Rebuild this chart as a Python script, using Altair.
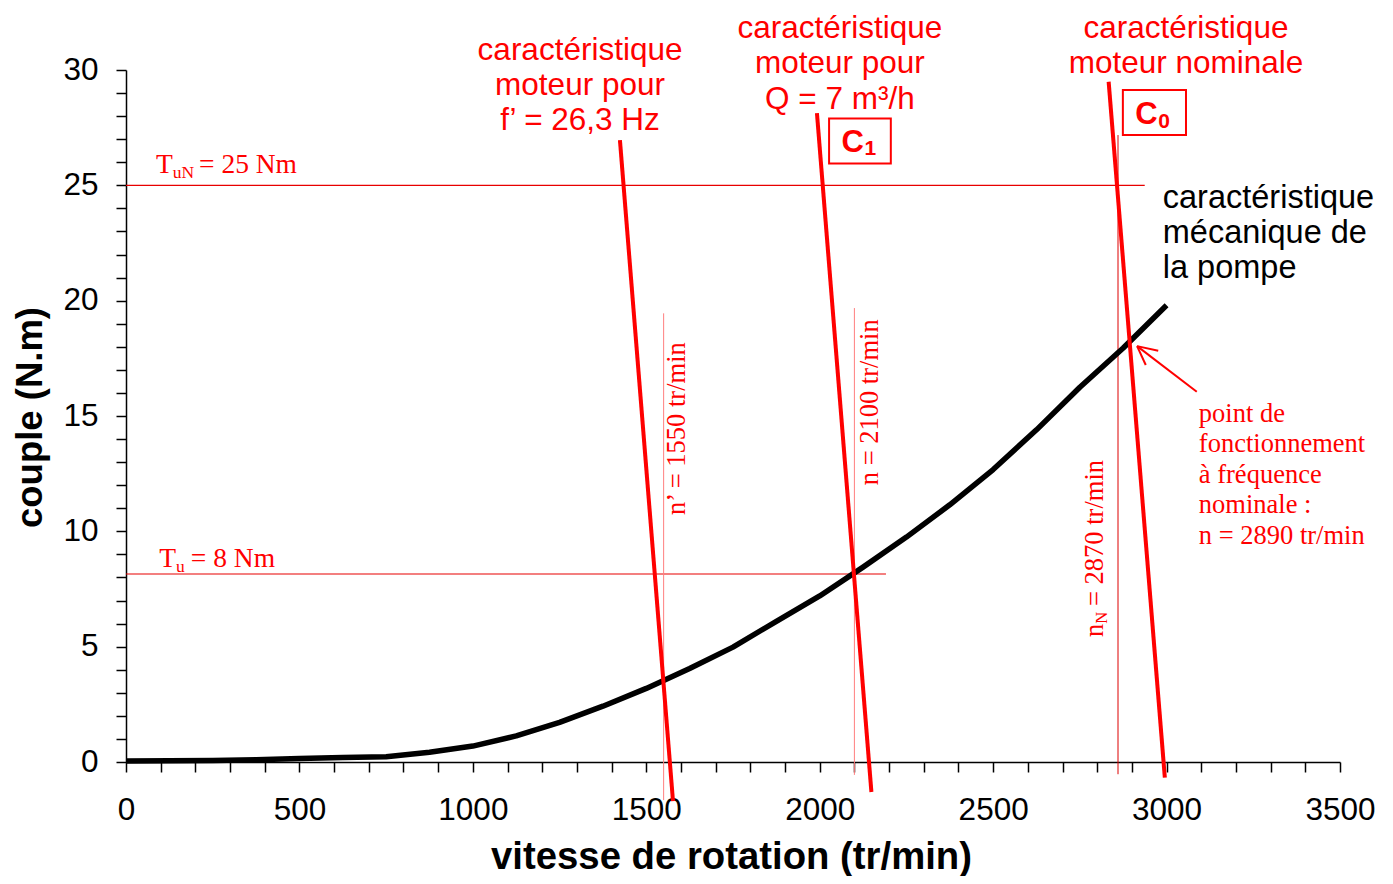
import altair as alt
import pandas as pd

# ---------------- data ----------------
# pump mechanical characteristic (speed in tr/min, torque in N.m)
pump_speed = [0, 125, 250, 375, 500, 625, 750, 875, 1000, 1125, 1250, 1375, 1500,
              1625, 1750, 1875, 2000, 2125, 2250, 2375, 2500, 2625, 2750, 2875, 3000]
pump_torque = [0.04, 0.05, 0.07, 0.10, 0.15, 0.20, 0.23, 0.42, 0.69, 1.13, 1.72, 2.42, 3.19,
               4.05, 4.98, 6.10, 7.20, 8.45, 9.75, 11.15, 12.68, 14.40, 16.25, 17.95, 19.80]

# motor characteristics (straight segments, top and bottom end)
motor_name = ["f' = 26,3 Hz", "C1", "C0"]
motor_speed_top = [1424, 1992, 2833]
motor_torque_top = [26.96, 28.13, 29.49]
motor_speed_bottom = [1577, 2149, 2995]
motor_torque_bottom = [-1.70, -1.30, -0.68]

# vertical speed markers
marker_speed = [1550, 2100, 2860]
marker_top = [19.45, 19.68, 27.18]
marker_bottom = [-1.65, -0.56, -0.53]
marker_color = ["#ff7f7f", "#ff7f7f", "#dd0000"]

# horizontal torque markers
hline_torque = [25, 8.15]
hline_start = [0, 0]
hline_end = [2937, 2191]

# boxes around C1 / C0
box_x1 = [2027, 2874]
box_x2 = [2205, 3056]
box_y1 = [25.95, 27.18]
box_y2 = [27.90, 29.13]

# arrow to nominal operating point
arrow_x1 = [3087, 2915, 2915]
arrow_y1 = [16.05, 18.03, 18.03]
arrow_x2 = [2915, 2976, 2940]
arrow_y2 = [18.03, 17.83, 17.21]

x_ticks = list(range(0, 3501, 100))
y_ticks = list(range(0, 31, 1))

RED = "#ff0000"
SANS = "Liberation Sans"
SERIF = "Liberation Serif"

# ---------------- scales & axes ----------------
xs = alt.Scale(domain=[0, 3500], nice=False, zero=False)
ys = alt.Scale(domain=[0, 30], nice=False, zero=False)

xaxis = alt.Axis(
    values=x_ticks, format="d",
    labelExpr="datum.value % 500 === 0 ? datum.label : ''",
    title="vitesse de rotation (tr/min)", grid=False,
    tickSize=10, tickWidth=1.5, tickColor="black",
    domainWidth=1.5, domainColor="black",
    labelFont=SANS, labelFontSize=31.5, labelColor="black", labelPadding=22,
    labelFlush=False, labelOverlap=False,
    titleFont=SANS, titleFontSize=38.3, titleFontWeight="bold", titleColor="black",
    titleX=605, titleY=106, titleAlign="center", titleBaseline="alphabetic",
)
yaxis = alt.Axis(
    values=y_ticks, format="d",
    labelExpr="datum.value % 5 === 0 ? datum.label : ''",
    title="couple (N.m)", grid=False,
    tickSize=10, tickWidth=1.5, tickColor="black",
    domainWidth=1.5, domainColor="black",
    labelFont=SANS, labelFontSize=31.5, labelColor="black", labelPadding=18,
    labelOverlap=False,
    titleFont=SANS, titleFontSize=36.5, titleFontWeight="bold", titleColor="black",
    titleAngle=270, titleX=-85, titleY=347, titleAlign="center", titleBaseline="alphabetic",
)


def X(f):
    return alt.X(f, type="quantitative", scale=xs, axis=xaxis)


def Y(f):
    return alt.Y(f, type="quantitative", scale=ys, axis=yaxis)


def text_layer(x, y, t, **kw):
    df = pd.DataFrame({"x": [x], "y": [y], "t": [t]})
    return alt.Chart(df).mark_text(**kw).encode(x=X("x"), y=Y("y"), text="t:N")


# ---------------- layers ----------------
pump_df = pd.DataFrame({"x": pump_speed, "y": pump_torque})
motor_df = pd.DataFrame({"name": motor_name, "x": motor_speed_top, "y": motor_torque_top,
                         "x2": motor_speed_bottom, "y2": motor_torque_bottom})
marker_df = pd.DataFrame({"x": marker_speed, "y": marker_top, "y2": marker_bottom,
                          "c": marker_color})
hline_df = pd.DataFrame({"x": hline_start, "x2": hline_end, "y": hline_torque})
box_df = pd.DataFrame({"x": box_x1, "x2": box_x2, "y": box_y1, "y2": box_y2})
arrow_df = pd.DataFrame({"x": arrow_x1, "y": arrow_y1, "x2": arrow_x2, "y2": arrow_y2})

hlines = alt.Chart(hline_df).mark_rule(color="#e80000", strokeWidth=1.1).encode(
    x=X("x"), x2="x2", y=Y("y"))
vlines = alt.Chart(marker_df).mark_rule(strokeWidth=1).encode(
    x=X("x"), y=Y("y"), y2="y2", color=alt.Color("c:N", scale=None))
curve = alt.Chart(pump_df).mark_line(color="black", strokeWidth=5.5, strokeJoin="round").encode(
    x=X("x"), y=Y("y"))
motors = alt.Chart(motor_df).mark_rule(color=RED, strokeWidth=4).encode(
    x=X("x"), y=Y("y"), x2="x2", y2="y2")
boxes = alt.Chart(box_df).mark_rect(fill="white", stroke=RED, strokeWidth=2).encode(
    x=X("x"), x2="x2", y=Y("y"), y2="y2")
arrow = alt.Chart(arrow_df).mark_rule(color=RED, strokeWidth=2).encode(
    x=X("x"), y=Y("y"), x2="x2", y2="y2")

serif = dict(font=SERIF, color=RED, align="left", baseline="alphabetic")
texts = [
    # T_uN = 25 Nm
    text_layer(86.5, 25.53, "T", fontSize=27.5, **serif),
    text_layer(86.5, 25.53, "uN", fontSize=17.5, dx=16.8, dy=5, **serif),
    text_layer(86.5, 25.53, "= 25 Nm", fontSize=27.5, dx=43, **serif),
    # T_u = 8 Nm
    text_layer(96, 8.47, "T", fontSize=27.5, **serif),
    text_layer(96, 8.47, "u", fontSize=17.5, dx=16.8, dy=5, **serif),
    text_layer(96, 8.47, "= 8 Nm", fontSize=27.5, dx=31.5, **serif),
    # rotated speed labels
    text_layer(1611, 10.71, "n\u2019 = 1550 tr/min", fontSize=26.5, angle=270, **serif),
    text_layer(2168, 12.0, "n = 2100 tr/min", fontSize=26.5, angle=270, **serif),
    text_layer(2816, 5.42, "n", fontSize=26.5, angle=270, **serif),
    text_layer(2816, 5.42, "N", fontSize=16.5, angle=270, dx=13.2, dy=4, **serif),
    text_layer(2816, 5.42, "= 2870 tr/min", fontSize=26.5, angle=270, dx=31, **serif),
    # operating point note
    text_layer(3093, 14.75,
               "point de\nfonctionnement\n\u00e0 fr\u00e9quence\nnominale :\nn = 2890 tr/min",
               fontSize=26.5, lineBreak="\n", lineHeight=30.5, **serif),
    # red motor captions
    text_layer(1309, 30.45, "caract\u00e9ristique\nmoteur pour\nf\u2019 = 26,3 Hz",
               font=SANS, fontSize=31.5, color=RED, align="center", baseline="alphabetic",
               lineBreak="\n", lineHeight=35),
    text_layer(2058, 31.40, "caract\u00e9ristique\nmoteur pour\nQ = 7 m\u00b3/h",
               font=SANS, fontSize=31.5, color=RED, align="center", baseline="alphabetic",
               lineBreak="\n", lineHeight=35.5),
    text_layer(3056, 31.40, "caract\u00e9ristique\nmoteur nominale",
               font=SANS, fontSize=31.5, color=RED, align="center", baseline="alphabetic",
               lineBreak="\n", lineHeight=35.5),
    # black pump caption
    text_layer(2989, 24.0, "caract\u00e9ristique\nm\u00e9canique de\nla pompe",
               font=SANS, fontSize=32.5, color="black", align="left", baseline="alphabetic",
               lineBreak="\n", lineHeight=35),
    # C1 / C0 boxed labels
    text_layer(2063, 26.45, "C", font=SANS, fontSize=31, fontWeight="bold", color=RED,
               align="left", baseline="alphabetic"),
    text_layer(2063, 26.45, "1", font=SANS, fontSize=21, fontWeight="bold", color=RED,
               align="left", baseline="alphabetic", dx=23, dy=3.5),
    text_layer(2910, 27.65, "C", font=SANS, fontSize=31, fontWeight="bold", color=RED,
               align="left", baseline="alphabetic"),
    text_layer(2910, 27.65, "0", font=SANS, fontSize=21, fontWeight="bold", color=RED,
               align="left", baseline="alphabetic", dx=23, dy=3.5),
]

chart = alt.layer(hlines, vlines, curve, motors, boxes, arrow, *texts).properties(
    width=1214, height=692,
    autosize=alt.AutoSizeParams(type="none"),
    padding={"left": 118, "top": 62, "right": 40, "bottom": 114},
    background="white",
).configure_view(stroke=None)

chart.save("out.html", embed_options={"renderer": "svg", "actions": False})
